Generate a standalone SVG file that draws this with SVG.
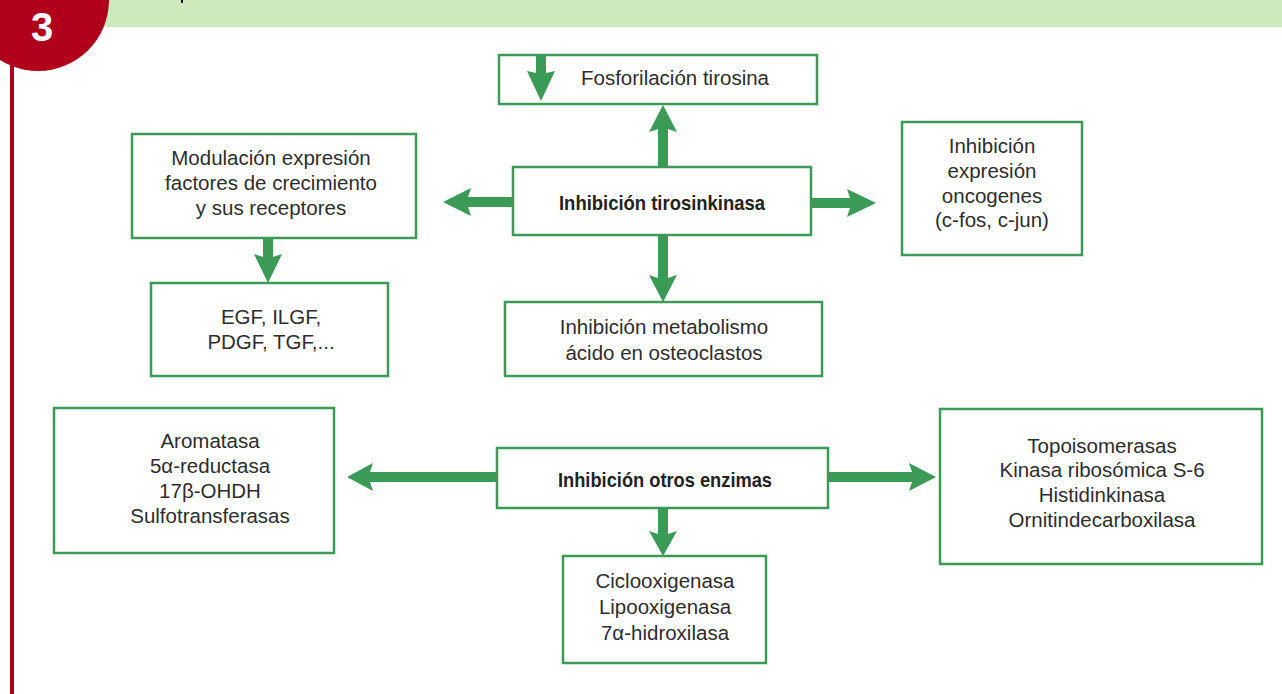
<svg xmlns="http://www.w3.org/2000/svg" width="1282" height="694" viewBox="0 0 1282 694">
<style>
.box{fill:#fff;stroke:#3a9a56;stroke-width:2.5}
.t{font-family:"Liberation Sans",Arial,sans-serif;font-size:20.5px;fill:#2d2d2d;text-anchor:middle}
.b{font-family:"Liberation Sans Narrow","Liberation Sans",Arial,sans-serif;font-size:21px;font-weight:bold;fill:#222;text-anchor:middle}
.arr{fill:#3a9a56}
</style>
<rect width="1282" height="694" fill="#fff"/>
<g id="header">
<rect x="0" y="0" width="1282" height="27" fill="#cdeabd"/>
<rect x="181" y="0" width="2" height="3" fill="#111"/>
<line x1="12" y1="40" x2="12" y2="694" stroke="#b1001c" stroke-width="4"/>
<circle cx="38" cy="0" r="71" fill="#b1001c"/>
<text x="42" y="41" font-family="Liberation Sans,Arial,sans-serif" font-size="40" font-weight="bold" fill="#fff" text-anchor="middle">3</text>
</g>
<g id="fosforilacion">
<rect class="box" x="499" y="55" width="318" height="49"/>
<text class="t" x="675" y="85">Fosforilación tirosina</text>
</g>
<g id="tirosinkinasa">
<rect class="box" x="513" y="167" width="298" height="68"/>
<text class="b" x="662" y="210" textLength="206" lengthAdjust="spacingAndGlyphs">Inhibición tirosinkinasa</text>
</g>
<g id="modulacion">
<rect class="box" x="132" y="134" width="284" height="104"/>
<text class="t" x="271" y="165">Modulación expresión</text>
<text class="t" x="271" y="190">factores de crecimiento</text>
<text class="t" x="271" y="215">y sus receptores</text>
</g>
<g id="egf">
<rect class="box" x="151" y="283" width="237" height="93"/>
<text class="t" x="271" y="324">EGF, ILGF,</text>
<text class="t" x="271" y="349">PDGF, TGF,...</text>
</g>
<g id="metabolismo">
<rect class="box" x="505" y="302" width="317" height="74"/>
<text class="t" x="664" y="334">Inhibición metabolismo</text>
<text class="t" x="664" y="360">ácido en osteoclastos</text>
</g>
<g id="oncogenes">
<rect class="box" x="902" y="122" width="180" height="133"/>
<text class="t" x="992" y="153">Inhibición</text>
<text class="t" x="992" y="178">expresión</text>
<text class="t" x="992" y="203">oncogenes</text>
<text class="t" x="992" y="227">(c-fos, c-jun)</text>
</g>
<g id="aromatasa">
<rect class="box" x="54" y="408" width="280" height="145"/>
<text class="t" x="210" y="448">Aromatasa</text>
<text class="t" x="210" y="473">5α-reductasa</text>
<text class="t" x="210" y="498">17β-OHDH</text>
<text class="t" x="210" y="523">Sulfotransferasas</text>
</g>
<g id="otros">
<rect class="box" x="497" y="448" width="331" height="60"/>
<text class="b" x="665" y="487" textLength="214" lengthAdjust="spacingAndGlyphs">Inhibición otros enzimas</text>
</g>
<g id="topoisomerasas">
<rect class="box" x="940" y="409" width="322" height="155"/>
<text class="t" x="1102" y="453">Topoisomerasas</text>
<text class="t" x="1102" y="477">Kinasa ribosómica S-6</text>
<text class="t" x="1102" y="502">Histidinkinasa</text>
<text class="t" x="1102" y="527">Ornitindecarboxilasa</text>
</g>
<g id="ciclooxigenasa">
<rect class="box" x="563" y="556" width="203" height="107"/>
<text class="t" x="665" y="588">Ciclooxigenasa</text>
<text class="t" x="665" y="614">Lipooxigenasa</text>
<text class="t" x="665" y="640">7α-hidroxilasa</text>
</g>
<g id="connectors">
<polygon class="arr" points="658,167 658,129 649,132 663,105 677,132 668,129 668,167"/>
<polygon class="arr" points="536,56 536,73 527,71 541,101 555,71 546,73 546,56"/>
<polygon class="arr" points="513,197 468,197 471,188 443,202 471,216 468,207 513,207"/>
<polygon class="arr" points="811,198 850,198 847,189 876,203 847,217 850,208 811,208"/>
<polygon class="arr" points="658,236 658,278 649,275 663,302 677,275 668,278 668,236"/>
<polygon class="arr" points="263,238 263,257 254,254 268,283 282,254 273,257 273,238"/>
<polygon class="arr" points="497,472 370,472 373,463 347,477 373,491 370,482 497,482"/>
<polygon class="arr" points="828,472 912,472 909,463 936,477 909,491 912,482 828,482"/>
<polygon class="arr" points="658,508 658,534 649,531 663,556 677,531 668,534 668,508"/>
</g>
</svg>
